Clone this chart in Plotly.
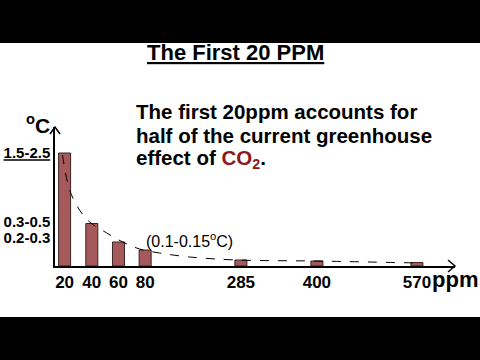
import plotly.graph_objects as go

# ---- data ----
ppm_labels = ["20", "40", "60", "80", "285", "400", "570"]
# bar heights (relative warming, arbitrary schematic units)
bar_heights = [113, 42.5, 24, 16, 6, 5, 3.5]
# y-axis labels (temperature ranges) and their heights on the schematic scale
y_tick_vals = [113, 44, 28]
y_tick_text = ["<u>1.5-2.5</u>", "0.3-0.5", "0.2-0.3"]
# dashed trend curve
curve_x = [-0.08, 0.19, 0.56, 0.94, 1.58, 2.18, 2.81, 3.56, 4.69, 6.45, 9.30, 13.31]
curve_y = [111, 76, 56, 44, 33, 24, 17, 13, 9, 6, 5, 3]

# ---- layout (schematic, non-linear x axis slots) ----
x_slots = [0, 1.02, 2.02, 3.02, 6.61, 9.46, 13.21]

FONT = "Liberation Sans, Arial, sans-serif"
BAR = "#a5595b"
L, R, T, B = 55, 25, 127, 94
PW, PH = 480 - L - R, 360 - T - B


def px(x):
    return (x - L) / PW


def py(y):
    return (360 - B - y) / PH


fig = go.Figure()
fig.add_trace(go.Bar(
    x=x_slots, y=bar_heights, width=0.45,
    marker=dict(color=BAR, line=dict(color="#3a2424", width=1)),
    hoverinfo="skip",
))
fig.add_trace(go.Scatter(
    x=curve_x, y=curve_y, mode="lines",
    line=dict(color="black", width=1, dash="dash", shape="spline"),
    hoverinfo="skip",
))

annotations = [
    dict(text="<b><u>The First 20 PPM</u></b>", x=px(235), y=py(52),
         font=dict(size=22)),
    dict(text="<b>The first 20ppm accounts for</b>", x=px(134), y=py(111),
         xanchor="left", font=dict(size=20.5)),
    dict(text="<b>half of the current greenhouse</b>", x=px(134), y=py(135),
         xanchor="left", font=dict(size=20.5)),
    dict(text="<b>effect of <span style='color:#8b1a1a'>CO<sub>2</sub></span>.</b>",
         x=px(134), y=py(159), xanchor="left", font=dict(size=20.5)),
    dict(text="<b><sup>o</sup>C</b>", x=px(38), y=py(124), font=dict(size=21)),
    dict(text="<b>ppm</b>", x=px(455), y=py(279), font=dict(size=22)),
    dict(text="(0.1-0.15<sup>o</sup>C)", x=px(189), y=py(240), font=dict(size=16)),
]
for a in annotations:
    a.setdefault("xanchor", "center")
    a.setdefault("yanchor", "middle")
    a.update(xref="paper", yref="paper", showarrow=False)
    a["font"].update(family=FONT, color="black")

shapes = [
    # letterbox bars
    dict(type="rect", xref="paper", yref="paper", x0=px(-5), x1=px(485),
         y0=py(-5), y1=py(43), fillcolor="black", line=dict(width=0), layer="above"),
    dict(type="rect", xref="paper", yref="paper", x0=px(-5), x1=px(485),
         y0=py(317), y1=py(365), fillcolor="black", line=dict(width=0), layer="above"),
    # arrow heads
    dict(type="path", xref="paper", yref="paper",
         path=f"M {px(50)},{py(134)} L {px(55)},{py(127)} L {px(60)},{py(134)}",
         line=dict(color="black", width=1.5)),
    dict(type="path", xref="paper", yref="paper",
         path=f"M {px(448)},{py(260)} L {px(455)},{py(266)} L {px(448)},{py(272)}",
         line=dict(color="black", width=1.5)),
]

fig.update_layout(
    width=480, height=360,
    margin=dict(l=L, r=R, t=T, b=B, autoexpand=False),
    paper_bgcolor="white", plot_bgcolor="white",
    showlegend=False,
    annotations=annotations, shapes=shapes,
    font=dict(family=FONT, color="black"),
)
fig.update_xaxes(
    range=[-0.36, -0.36 + PW / 26.67], showgrid=False, zeroline=False,
    showline=True, linecolor="black", linewidth=1.5, automargin=False,
    tickmode="array", tickvals=x_slots, ticktext=[f"<b>{t}</b>" for t in ppm_labels],
    tickfont=dict(size=17, family=FONT, color="black"), ticks="",
)
fig.update_yaxes(
    range=[0, PH], showgrid=False, zeroline=False,
    showline=True, linecolor="black", linewidth=1.5, automargin=False,
    tickmode="array", tickvals=y_tick_vals, ticktext=[f"<b>{t}</b>" for t in y_tick_text],
    tickfont=dict(size=15, family=FONT, color="black"), ticks="",
)

fig.write_html(
    "out.html",
    config={"displayModeBar": False},
    post_script="document.body.style.margin='0';document.body.style.overflow='hidden';",
)
